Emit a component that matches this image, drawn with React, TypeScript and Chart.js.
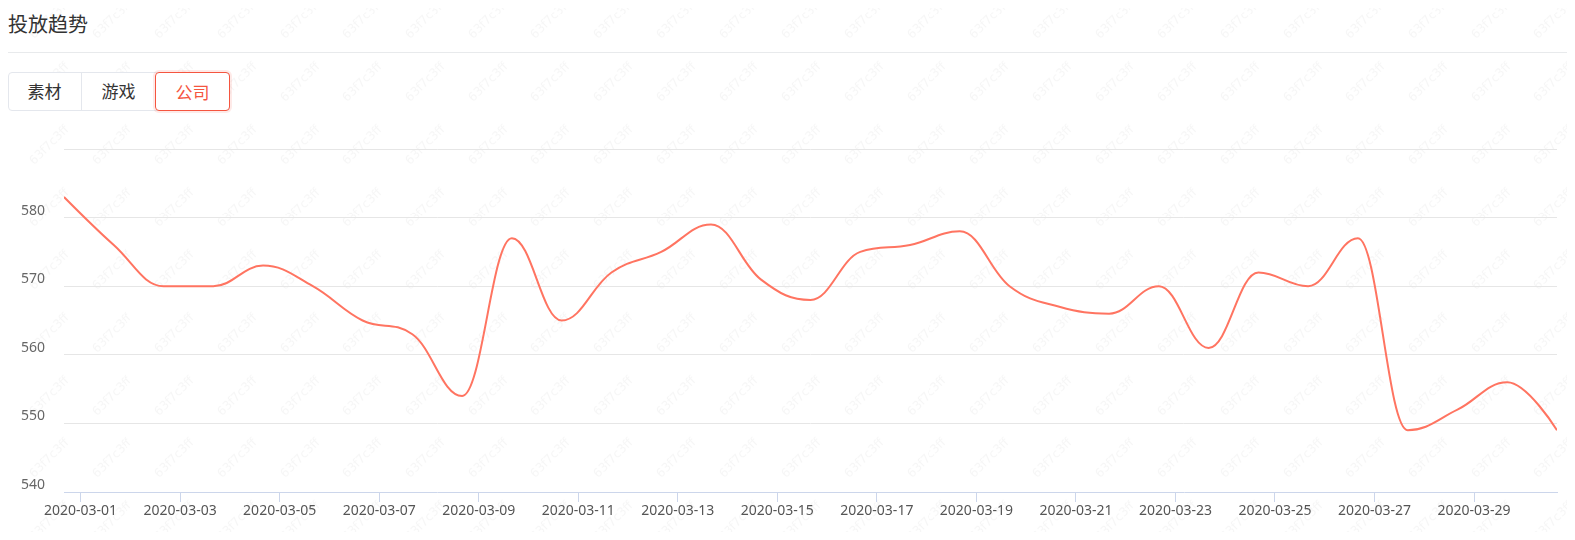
import React, { useEffect, useRef } from "react";
import { Chart, registerables } from "chart.js";

Chart.register(...registerables);

const title = "投放趋势";
const tabs = ["素材", "游戏", "公司"];
const activeTab = "公司";
const watermarkText = "63f7c3ff";

const dates = [
  "2020-03-01", "2020-03-02", "2020-03-03", "2020-03-04", "2020-03-05", "2020-03-06", "2020-03-07",
  "2020-03-08", "2020-03-09", "2020-03-10", "2020-03-11", "2020-03-12", "2020-03-13", "2020-03-14",
  "2020-03-15", "2020-03-16", "2020-03-17", "2020-03-18", "2020-03-19", "2020-03-20", "2020-03-21",
  "2020-03-22", "2020-03-23", "2020-03-24", "2020-03-25", "2020-03-26", "2020-03-27", "2020-03-28",
  "2020-03-29", "2020-03-30", "2020-03-31",
];
const values = [
  583, 576, 570, 570, 573, 570, 565, 563, 554, 577, 565, 572, 575, 579, 571, 568, 575, 576, 578, 570,
  567, 566, 570, 561, 572, 570, 577, 549, 552, 556, 549,
];
const xTickLabels = [
  "2020-03-01", "2020-03-03", "2020-03-05", "2020-03-07", "2020-03-09", "2020-03-11", "2020-03-13",
  "2020-03-15", "2020-03-17", "2020-03-19", "2020-03-21", "2020-03-23", "2020-03-25", "2020-03-27",
  "2020-03-29",
];
const yTickLabels = ["540", "550", "560", "570", "580", ""];
const Y_MIN = 540;
const Y_MAX = 590;
const Y_STEP = 10;
// data stamped at UTC midnight, axis labelled in UTC+8
const TZ_SHIFT_DAYS = 8 / 24;

const LINE_COLOR = "#ff7461";
const ACCENT = "#f5553f";

// Highcharts-style spline control points
const splinePlugin = {
  id: "hcSpline",
  beforeDatasetDraw(chart: any, args: any) {
    const meta = args.meta;
    const line = meta.dataset;
    if (!line) return;
    line.updateControlPoints(chart.chartArea, meta.iScale.axis);
    const pts = meta.data;
    const sm = 1.5;
    const den = sm + 1;
    for (let i = 0; i < pts.length; i++) {
      const p = pts[i];
      const prev = pts[i - 1];
      const next = pts[i + 1];
      if (!prev || !next) {
        p.cp1x = p.x; p.cp1y = p.y; p.cp2x = p.x; p.cp2y = p.y;
        continue;
      }
      let lx = (sm * p.x + prev.x) / den;
      let ly = (sm * p.y + prev.y) / den;
      let rx = (sm * p.x + next.x) / den;
      let ry = (sm * p.y + next.y) / den;
      let corr = 0;
      if (rx !== lx) corr = ((ry - ly) * (rx - p.x)) / (rx - lx) + p.y - ry;
      ly += corr;
      ry += corr;
      if (ly > prev.y && ly > p.y) {
        ly = Math.max(prev.y, p.y);
        ry = 2 * p.y - ly;
      } else if (ly < prev.y && ly < p.y) {
        ly = Math.min(prev.y, p.y);
        ry = 2 * p.y - ly;
      }
      if (ry > next.y && ry > p.y) {
        ry = Math.max(next.y, p.y);
        ly = 2 * p.y - ry;
      } else if (ry < next.y && ry < p.y) {
        ry = Math.min(next.y, p.y);
        ly = 2 * p.y - ry;
      }
      p.cp1x = lx; p.cp1y = ly; p.cp2x = rx; p.cp2y = ry;
    }
    line._path = undefined;
  },
};

function TrendChart() {
  const ref = useRef<HTMLCanvasElement | null>(null);
  useEffect(() => {
    if (!ref.current) return;
    const points = values.map((v, i) => ({ x: i, y: v }));
    const tickPositions = xTickLabels.map((l) => dates.indexOf(l) + TZ_SHIFT_DAYS);
    const chart = new Chart(ref.current, {
      type: "line",
      data: {
        datasets: [
          {
            data: points,
            borderColor: LINE_COLOR,
            borderWidth: 2,
            pointRadius: 0,
            pointHoverRadius: 0,
            tension: 0.4,
            fill: false,
          },
        ],
      },
      options: {
        animation: false,
        responsive: true,
        maintainAspectRatio: false,
        layout: { padding: { top: 21, right: 10, left: 0, bottom: 0 } },
        plugins: { legend: { display: false }, tooltip: { enabled: false } },
        events: [],
        scales: {
          x: {
            type: "linear",
            min: 0,
            max: dates.length - 1,
            afterBuildTicks: (scale: any) => {
              scale.ticks = tickPositions.map((v) => ({ value: v }));
            },
            afterFit: (scale: any) => {
              scale.height = 40;
              scale.paddingLeft = 0;
              scale.paddingRight = 0;
              scale.paddingTop = 0;
              scale.paddingBottom = 0;
            },
            ticks: {
              autoSkip: false,
              maxRotation: 0,
              minRotation: 0,
              padding: 1,
              color: "#555",
              font: { family: "'Noto Sans', sans-serif", size: 14 },
              callback: (_v: any, i: number) => xTickLabels[i],
            },
            grid: {
              drawOnChartArea: false,
              drawTicks: true,
              tickLength: 10,
              tickColor: "#ccd6eb",
              tickWidth: 1,
            },
            border: { display: true, color: "#ccd6eb", width: 1 },
          },
          y: {
            min: Y_MIN,
            max: Y_MAX,
            afterFit: (scale: any) => {
              scale.width = 56;
              scale.paddingLeft = 0;
              scale.paddingRight = 0;
              scale.paddingTop = 0;
              scale.paddingBottom = 0;
            },
            ticks: {
              stepSize: Y_STEP,
              padding: 19,
              labelOffset: -7,
              color: "#666",
              font: { family: "'Noto Sans', sans-serif", size: 14 },
              callback: (_v: any, i: number) => yTickLabels[i],
            },
            grid: {
              drawTicks: false,
              color: (ctx: any) => (ctx.tick && ctx.tick.value === Y_MIN ? "rgba(0,0,0,0)" : "#e6e6e6"),
              lineWidth: 1,
            },
            border: { display: false },
          },
        },
      },
      plugins: [splinePlugin],
    } as any);
    return () => chart.destroy();
  }, []);
  return <canvas ref={ref} />;
}

function watermarkUrl() {
  const svg =
    `<svg xmlns="http://www.w3.org/2000/svg" width="62.7" height="62.7" viewBox="0 0 62.7 62.7">` +
    `<text x="8" y="48" transform="rotate(-45 8 48)" font-family="DejaVu Sans, sans-serif" font-size="12" fill="rgba(0,0,0,0.035)">${watermarkText}</text>` +
    `</svg>`;
  return `url("data:image/svg+xml;utf8,${encodeURIComponent(svg)}")`;
}

export default function App() {
  const cjk = "'Noto Sans CJK SC', 'Noto Sans', sans-serif";
  const tabWidths = [74, 73, 75];
  let left = 0;
  const tabEls = tabs.map((t, i) => {
    const l = left;
    left += tabWidths[i];
    const active = t === activeTab;
    return (
      <div
        key={t}
        style={{
          position: "absolute",
          left: l,
          top: 0,
          width: tabWidths[i],
          height: 39,
          boxSizing: "border-box",
          border: active ? `1px solid ${ACCENT}` : "none",
          borderRight: !active && i < tabs.length - 1 && tabs[i + 1] !== activeTab ? "1px solid #e4e7ed" : active ? `1px solid ${ACCENT}` : "none",
          borderRadius: active ? 4 : 0,
          boxShadow: active ? "0 0 0 2px rgba(245,85,63,0.12)" : "none",
          color: active ? ACCENT : "#333",
          fontSize: 17,
          lineHeight: "37px",
          textAlign: "center",
          fontFamily: cjk,
        }}
      >
        {t}
      </div>
    );
  });
  return (
    <div style={{ position: "relative", width: 1559, height: 524, fontFamily: cjk }}>
      <div
        style={{
          position: "absolute",
          left: -8,
          top: -8,
          width: 1575,
          height: 540,
          backgroundImage: watermarkUrl(),
          backgroundSize: "62.7px 62.7px",
          backgroundPosition: "26px -8.4px",
          pointerEvents: "none",
        }}
      />
      <div
        style={{
          position: "absolute",
          left: 0,
          top: 6,
          fontSize: 20,
          lineHeight: "20px",
          color: "#333",
          whiteSpace: "nowrap",
        }}
      >
        {title}
      </div>
      <div style={{ position: "absolute", left: 0, top: 44, width: 1561, height: 1, background: "#e8eaec" }} />
      <div
        style={{
          position: "absolute",
          left: 0,
          top: 64,
          width: 222,
          height: 39,
          boxSizing: "border-box",
          border: "1px solid #e4e7ed",
          borderRadius: 4,
          background: "#fff",
        }}
      />
      <div style={{ position: "absolute", left: 0, top: 64, width: 222, height: 39 }}>{tabEls}</div>
      <div style={{ position: "absolute", left: 0, top: 120, width: 1559, height: 404 }}>
        <TrendChart />
      </div>
    </div>
  );
}
